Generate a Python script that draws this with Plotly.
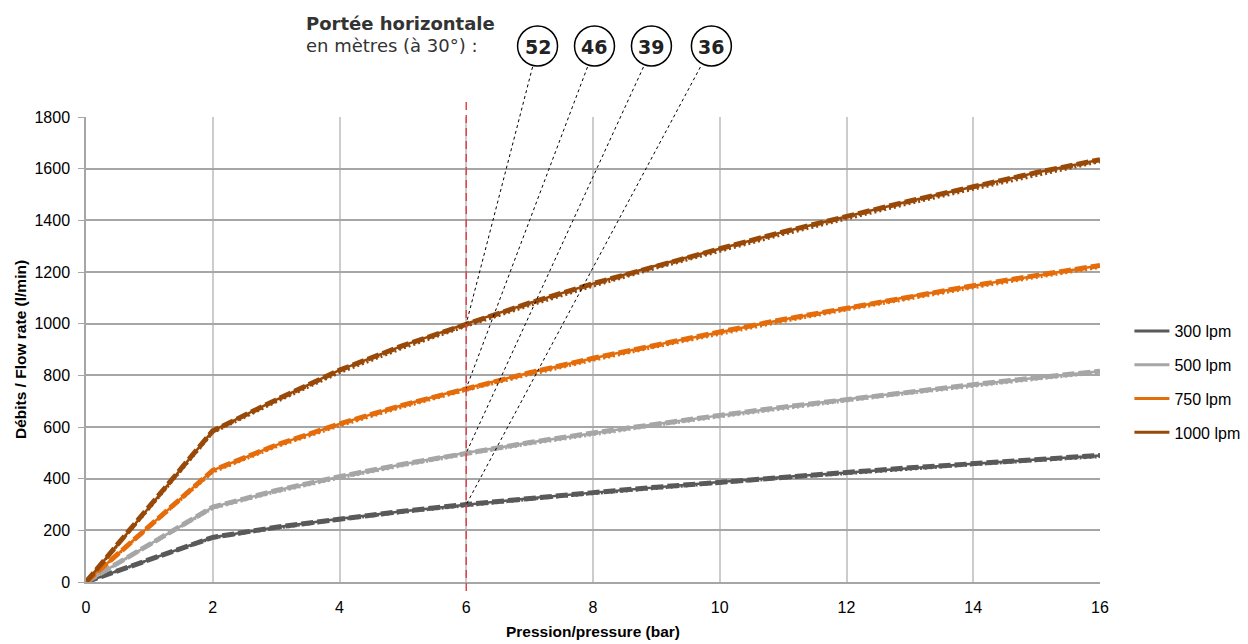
import plotly.graph_objects as go

pressure = list(range(0, 17))
series_names = ["300 lpm", "500 lpm", "750 lpm", "1000 lpm"]
colors = ["#595959", "#a6a6a6", "#e46c0a", "#984807"]

flow_300 = [0, 87, 173, 212, 245, 274, 300, 324, 346, 367, 387, 406, 424, 442, 458, 474, 490]
flow_500 = [0, 145, 290, 354, 408, 456, 500, 540, 577, 612, 645, 677, 707, 736, 764, 791, 816]
flow_750 = [0, 215, 432, 530, 612, 685, 750, 810, 866, 918, 968, 1016, 1060, 1105, 1147, 1187, 1225]
flow_1000 = [0, 290, 585, 705, 820, 915, 1000, 1080, 1155, 1225, 1290, 1355, 1415, 1475, 1530, 1585, 1635]

trend_300 = [0, 85, 170, 208, 241, 270, 296, 320, 342, 363, 383, 402, 420, 437, 454, 470, 485]
trend_500 = [0, 142, 285, 348, 402, 450, 494, 534, 571, 606, 639, 671, 701, 730, 758, 785, 810]
trend_750 = [0, 212, 425, 523, 604, 677, 742, 802, 858, 910, 960, 1008, 1053, 1097, 1139, 1179, 1218]
trend_1000 = [0, 285, 578, 697, 810, 905, 990, 1070, 1145, 1215, 1280, 1345, 1405, 1465, 1520, 1575, 1627]

flows = [flow_300, flow_500, flow_750, flow_1000]
trends = [trend_300, trend_500, trend_750, trend_1000]

range_labels = ["52", "46", "39", "36"]  # for 1000, 750, 500, 300 lpm
ref_pressure = 6
x_ticks = list(range(0, 17, 2))
y_ticks = list(range(0, 1801, 200))
X_MAX = 16
Y_MAX = 1800

W, H = 1248, 644
OFF = 8  # page body margin compensation
ML, MR, MT, MB = 86, 147, 117, 62
PW = W - ML - MR
PH = H - MT - MB


def px_x(px):
    return (px - ML) / PW


def px_y(py):
    return (H - MB - py) / PH


fig = go.Figure()

for name, col, fl, tr in zip(series_names, colors, flows, trends):
    fig.add_trace(go.Scatter(x=pressure, y=tr, mode="lines", showlegend=False,
                             line=dict(color=col, width=3, dash="2px,3px"), hoverinfo="skip"))
    fig.add_trace(go.Scatter(x=pressure, y=fl, mode="lines", showlegend=False,
                             line=dict(color=col, width=2.5), hoverinfo="skip"))
    fig.add_trace(go.Scatter(x=pressure, y=fl, mode="lines", showlegend=False,
                             line=dict(color=col, width=5, dash="12px,4px"), name=name))

for i, (name, col) in enumerate(zip(series_names, colors)):
    fig.add_trace(go.Scatter(x=[None], y=[None], mode="lines", name=name,
                             legendgroup=name, line=dict(color=col, width=3)))

shapes = []
# red vertical reference line at 6 bar
shapes.append(dict(type="line", xref="paper", yref="paper",
                   x0=ref_pressure / X_MAX, x1=ref_pressure / X_MAX,
                   y0=px_y(591), y1=px_y(100),
                   line=dict(color="#e0474c", width=1.5, dash="8px,5px")))

circle_cx = [538, 595, 652, 712]
circle_cy = 46
r = 20
line_start_x = [533, 588, 644, 701]
annotations = []
target_flows = [flow_1000, flow_750, flow_500, flow_300]
idx = pressure.index(ref_pressure)
for lab, cx, sx, tf in zip(range_labels, circle_cx, line_start_x, target_flows):
    shapes.append(dict(type="circle", xref="paper", yref="paper",
                       x0=px_x(cx - r), x1=px_x(cx + r), y0=px_y(circle_cy + r), y1=px_y(circle_cy - r),
                       line=dict(color="#000000", width=1.5), fillcolor="rgba(0,0,0,0)"))
    annotations.append(dict(xref="paper", yref="paper", x=px_x(cx), y=px_y(circle_cy + 1),
                            text="<b>" + lab + "</b>", showarrow=False,
                            font=dict(family="DejaVu Sans", size=19, color="#222222"),
                            xanchor="center", yanchor="middle"))
    shapes.append(dict(type="line", xref="paper", yref="paper",
                       x0=px_x(sx), y0=px_y(circle_cy + r + 1),
                       x1=ref_pressure / X_MAX, y1=tf[idx] / Y_MAX,
                       line=dict(color="#000000", width=1, dash="dot")))

annotations.append(dict(xref="paper", yref="paper", x=px_x(304), y=px_y(23),
                        text="<b>Portée horizontale</b>", showarrow=False,
                        font=dict(family="DejaVu Sans", size=18, color="#333333"),
                        xanchor="left", yanchor="middle"))
annotations.append(dict(xref="paper", yref="paper", x=px_x(304), y=px_y(45),
                        text="en mètres (à 30°) :", showarrow=False,
                        font=dict(family="DejaVu Sans", size=18, color="#333333"),
                        xanchor="left", yanchor="middle"))

fig.update_layout(
    width=W, height=H,
    margin=dict(l=ML - OFF, r=MR + OFF, t=MT - OFF, b=MB + OFF),
    plot_bgcolor="#ffffff", paper_bgcolor="#ffffff",
    shapes=shapes, annotations=annotations,
    font=dict(family="Liberation Sans", size=16, color="#000000"),
    legend=dict(x=1.028, y=px_y(382), xanchor="left", yanchor="middle",
                font=dict(size=16), tracegroupgap=10, itemwidth=35,
                bgcolor="rgba(0,0,0,0)"),
    xaxis=dict(range=[0, X_MAX], tickvals=x_ticks, showgrid=True, gridcolor="#cccccc",
               gridwidth=1.5, zeroline=False, showline=True, linecolor="#a6a6a6", linewidth=1.5,
               ticks="", tickfont=dict(size=16), ticklabelstandoff=10, automargin=False,
               title=dict(text="<b>Pression/pressure (bar)</b>", font=dict(size=15.5), standoff=11)),
    yaxis=dict(range=[0, Y_MAX], tickvals=y_ticks, showgrid=True, gridcolor="#a6a6a6",
               gridwidth=1.5, zeroline=False, showline=True, linecolor="#a6a6a6", linewidth=1.5,
               ticks="outside", ticklen=6, tickcolor="#a6a6a6", tickfont=dict(size=16),
               ticklabelstandoff=5, automargin=False,
               title=dict(text="<b>Débits / Flow rate (l/min)</b>", font=dict(size=15.5), standoff=4)),
)

fig.write_html("out.html")
